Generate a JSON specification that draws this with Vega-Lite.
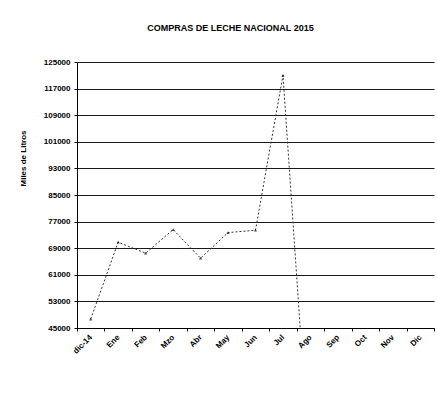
{
  "$schema": "https://vega.github.io/schema/vega-lite/v6.json",
  "width": 357,
  "height": 266,
  "autosize": {"type": "none"},
  "padding": {"left": 77, "top": 62, "right": 3, "bottom": 82},
  "background": "white",
  "title": {
    "text": "COMPRAS DE LECHE NACIONAL 2015",
    "font": "Liberation Sans",
    "fontSize": 9,
    "fontWeight": "bold",
    "color": "black",
    "offset": 25,
    "dx": -25
  },
  "config": {
    "view": {"stroke": null},
    "axis": {
      "labelFont": "Liberation Sans",
      "labelFontSize": 8,
      "labelFontWeight": "bold",
      "labelColor": "black",
      "titleFont": "Liberation Sans",
      "titleColor": "black",
      "domainColor": "black",
      "tickColor": "black"
    }
  },
  "data": {
    "values": [
      {"mes": "dic-14", "litros": 47700},
      {"mes": "Ene", "litros": 70800},
      {"mes": "Feb", "litros": 67500},
      {"mes": "Mzo", "litros": 74600},
      {"mes": "Abr", "litros": 66000},
      {"mes": "May", "litros": 73700},
      {"mes": "Jun", "litros": 74400},
      {"mes": "Jul", "litros": 121000},
      {"mes": "Ago", "litros": 0},
      {"mes": "Sep", "litros": null},
      {"mes": "Oct", "litros": null},
      {"mes": "Nov", "litros": null},
      {"mes": "Dic", "litros": null}
    ]
  },
  "encoding": {
    "x": {
      "field": "mes",
      "type": "ordinal",
      "sort": null,
      "scale": {
        "domain": ["dic-14", "Ene", "Feb", "Mzo", "Abr", "May", "Jun", "Jul", "Ago", "Sep", "Oct", "Nov", "Dic"],
        "paddingInner": 0,
        "paddingOuter": 0
      },
      "axis": {
        "title": null,
        "labelAngle": -45,
        "labelAlign": "right",
        "labelBaseline": "middle",
        "tickBand": "extent",
        "tickSize": 3,
        "labelPadding": 5,
        "domainWidth": 1
      }
    },
    "y": {
      "field": "litros",
      "type": "quantitative",
      "scale": {"domain": [45000, 125000], "nice": false, "zero": false},
      "axis": {
        "title": "Miles de Litros",
        "titleFontSize": 8,
        "titleFontWeight": "bold",
        "titleX": -50,
        "titleY": 96,
        "values": [45000, 53000, 61000, 69000, 77000, 85000, 93000, 101000, 109000, 117000, 125000],
        "format": "d",
        "grid": true,
        "gridColor": "black",
        "gridOpacity": 0.9,
        "gridWidth": 1,
        "tickSize": 3,
        "labelPadding": 4
      }
    }
  },
  "layer": [
    {
      "mark": {"type": "line", "clip": true, "color": "#333", "strokeWidth": 1, "strokeDash": [2, 2]}
    },
    {
      "mark": {"type": "point", "clip": true, "shape": "triangle-up", "filled": true, "color": "black", "size": 10}
    }
  ]
}
